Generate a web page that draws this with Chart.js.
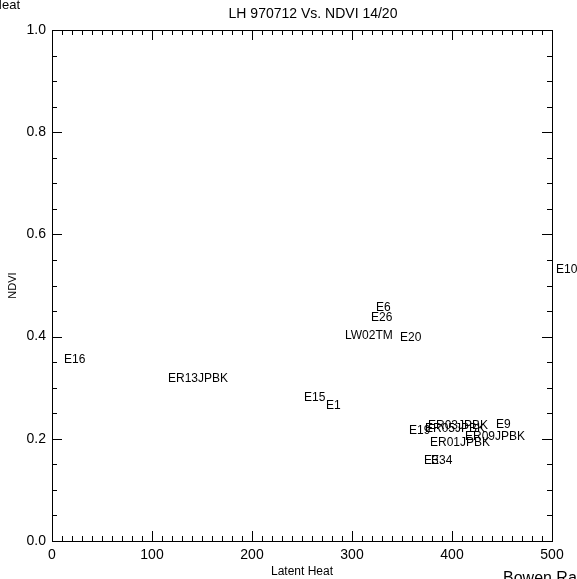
<!DOCTYPE html>
<html>
<head>
<meta charset="utf-8">
<script src="https://cdn.jsdelivr.net/npm/chart.js@4.4.1/dist/chart.umd.min.js"></script>
<style>
html,body{margin:0;padding:0;background:#fff;overflow:hidden;}
#wrap{position:relative;width:577px;height:579px;}
</style>
</head>
<body>
<div id="wrap"><canvas id="c" width="577" height="579"></canvas></div>
<script>
// ---- data ----
const siteLabels = ['E16','ER13JPBK','E15','E1','E6','E26','LW02TM','E20','E10','E9','E19','ER05JPBK','ER03JPBK','ER09JPBK','ER01JPBK','E3','E34'];
const latentHeat = [12, 116, 252, 274, 324, 319, 293, 348, 504, 444, 357, 373, 376, 413, 378, 372, 379];
const ndvi       = [0.348, 0.311, 0.274, 0.258, 0.450, 0.431, 0.395, 0.391, 0.524, 0.221, 0.209, 0.213, 0.219, 0.198, 0.186, 0.151, 0.151];
const xTickValues = [0, 100, 200, 300, 400, 500];
const yTickLabels = ['0.0', '0.2', '0.4', '0.6', '0.8', '1.0'];
const chartTitle = 'LH 970712 Vs. NDVI 14/20';
const xTitle = 'Latent Heat';
const yTitle = 'NDVI';

const FONT = '"Liberation Sans", Arial, sans-serif';

const points = latentHeat.map((x, i) => ({x: x, y: ndvi[i], label: siteLabels[i]}));

const idlPlugin = {
  id: 'idl',
  afterDraw(chart) {
    const ctx = chart.ctx;
    const a = chart.chartArea;
    const xs = chart.scales.x, ys = chart.scales.y;
    ctx.save();
    ctx.strokeStyle = '#000';
    ctx.fillStyle = '#000';
    ctx.lineWidth = 1;
    // box
    ctx.strokeRect(Math.round(a.left) + 0.5, Math.round(a.top) + 0.5, Math.round(a.right - a.left), Math.round(a.bottom - a.top));
    ctx.beginPath();
    for (let v = 0; v <= 500; v += 10) {
      const px = Math.round(xs.getPixelForValue(v)) + 0.5;
      const len = (v % 100 === 0) ? 10 : 5;
      ctx.moveTo(px, a.bottom); ctx.lineTo(px, a.bottom - len);
      ctx.moveTo(px, a.top); ctx.lineTo(px, a.top + len);
    }
    for (let k = 0; k <= 20; k++) {
      const v = k * 0.05;
      const py = Math.round(ys.getPixelForValue(v)) + 0.5;
      const len = (k % 4 === 0) ? 10 : 5;
      ctx.moveTo(a.left, py); ctx.lineTo(a.left + len, py);
      ctx.moveTo(a.right, py); ctx.lineTo(a.right - len, py);
    }
    ctx.stroke();

    // point labels
    ctx.font = '12px ' + FONT;
    ctx.textAlign = 'left';
    ctx.textBaseline = 'alphabetic';
    const meta = chart.getDatasetMeta(0);
    meta.data.forEach((el, i) => {
      const p = chart.data.datasets[0].data[i];
      ctx.fillText(p.label, xs.getPixelForValue(p.x), ys.getPixelForValue(p.y));
    });

    // titles
    ctx.font = '14px ' + FONT;
    ctx.textAlign = 'center';
    const cx = (a.left + a.right) / 2;
    ctx.fillText(chartTitle, cx + 11, 18);
    ctx.font = '12px ' + FONT;
    ctx.fillText(xTitle, cx, 575);
    ctx.save();
    ctx.translate(16, (a.top + a.bottom) / 2);
    ctx.rotate(-Math.PI / 2);
    ctx.font = '11px ' + FONT;
    ctx.fillText(yTitle, 0, 0);
    ctx.restore();
    // stray texts from the page (cut off at edges)
    ctx.textAlign = 'right';
    ctx.font = '13px ' + FONT;
    ctx.fillText('Heat', 20, 9);
    ctx.textAlign = 'left';
    ctx.font = '16px ' + FONT;
    ctx.fillText('Bowen Ratio', 503, 583);
    ctx.restore();
  }
};

new Chart(document.getElementById('c'), {
  type: 'scatter',
  data: {
    datasets: [{
      data: points,
      pointRadius: 0,
      pointHoverRadius: 0,
      showLine: false
    }]
  },
  options: {
    responsive: false,
    animation: false,
    events: [],
    layout: { padding: { top: 30, right: 25, left: 0, bottom: 0 } },
    plugins: { legend: { display: false }, tooltip: { enabled: false }, title: { display: false } },
    scales: {
      x: {
        type: 'linear', min: 0, max: 500,
        grid: { display: false, drawTicks: false },
        border: { display: false },
        afterBuildTicks: (s) => { s.ticks = xTickValues.map(v => ({value: v})); },
        afterFit: (s) => { s.height = 38; },
        ticks: { autoSkip: false, maxRotation: 0, padding: 6, color: '#000', font: { family: FONT, size: 14 },
          callback: (v) => String(v) }
      },
      y: {
        type: 'linear', min: 0, max: 1,
        grid: { display: false, drawTicks: false },
        border: { display: false },
        afterBuildTicks: (s) => { s.ticks = yTickLabels.map(t => ({value: parseFloat(t)})); },
        afterFit: (s) => { s.width = 52; },
        ticks: { autoSkip: false, padding: 6, color: '#000', font: { family: FONT, size: 14 },
          callback: (v) => yTickLabels[Math.round(v * 5)] }
      }
    }
  },
  plugins: [idlPlugin]
});
</script>
</body>
</html>
